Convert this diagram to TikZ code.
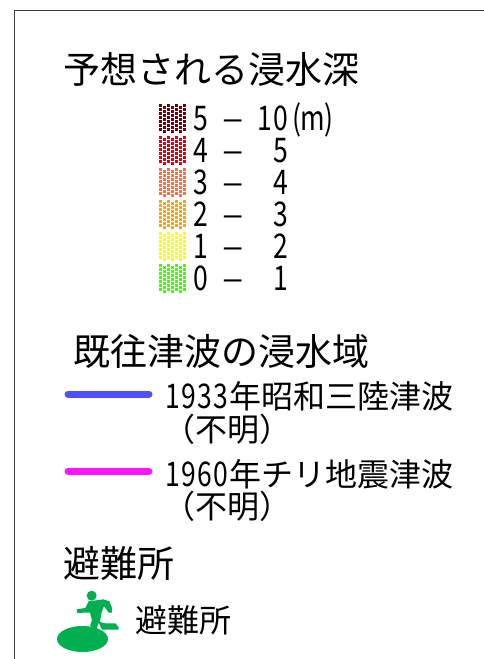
\documentclass[tikz,border=0pt]{standalone}
\usepackage{fontspec}
\usepackage{graphicx}
\setmainfont{Noto Sans CJK JP}
\newfontfamily\digitfont{Noto Sans CJK JP}[FakeStretch=0.78]
\newcommand{\hw}[1]{\makebox[16pt][c]{\digitfont\fontsize{34pt}{34pt}\selectfont #1}}
\newcommand{\wdash}{\hw{\scalebox{1.5}[1]{–}}}
\definecolor{swA}{RGB}{112,0,16}
\definecolor{swB}{RGB}{230,0,18}
\definecolor{swC}{RGB}{255,112,64}
\definecolor{swD}{RGB}{240,168,16}
\definecolor{swE}{RGB}{255,255,0}
\definecolor{swF}{RGB}{64,255,0}
\definecolor{lineA}{RGB}{80,80,255}
\definecolor{lineB}{RGB}{255,20,255}
\definecolor{runner}{RGB}{0,176,80}
\tikzset{
  heading/.style={anchor=west,inner sep=0pt,font=\fontsize{37pt}{37pt}\selectfont},
  entry/.style={anchor=base west,inner sep=0pt,font=\fontsize{32pt}{32pt}\selectfont},
  band/.style={line width=7pt,line cap=round},
}
% swatch: staggered grid of dots; #1 colour, #2 top y
\newcommand{\swatch}[2]{%
  \foreach \c in {0,2,4,6} {
    \foreach \r in {0,...,6} {
      \fill[#1] ({158.8+\c*4},{#2+\r*4-0.2}) rectangle ++(3.5,3.4);
    }
  }
  \foreach \c in {1,3,5} {
    \foreach \r in {0,...,6} {
      \fill[#1] ({158.8+\c*4},{#2+2+\r*4-0.2}) rectangle ++(3.5,3.4);
    }
  }
}
\begin{document}
\begin{tikzpicture}[x=1pt,y=-1pt]
\useasboundingbox (0,0) rectangle (484,659);
\fill[white] (0,0) rectangle (484,659);
\draw[line width=1pt,black!75] (14.5,659) -- (14.5,10.5) -- (484,10.5);

\node[heading] (title) at (63,69) {予想される浸水深};
\swatch{swA}{104}
\swatch{swB}{136}
\swatch{swC}{168}
\swatch{swD}{200}
\swatch{swE}{232}
\swatch{swF}{264}
\node[entry] (r5) at (193,130) {\hw{5}\hw{}\wdash\hw{}\hw{1}\hw{0}\hw{(}\hw{m}\hw{)}};
\node[entry] (r4) at (193,162) {\hw{4}\hw{}\wdash\hw{}\hw{}\hw{5}};
\node[entry] (r3) at (193,194) {\hw{3}\hw{}\wdash\hw{}\hw{}\hw{4}};
\node[entry] (r2) at (193,226) {\hw{2}\hw{}\wdash\hw{}\hw{}\hw{3}};
\node[entry] (r1) at (193,258) {\hw{1}\hw{}\wdash\hw{}\hw{}\hw{2}};
\node[entry] (r0) at (193,290) {\hw{0}\hw{}\wdash\hw{}\hw{}\hw{1}};

\node[heading] (past) at (73,351) {既往津波の浸水域};
\coordinate (a1) at (68,394); \coordinate (a2) at (149,394);
\draw[band,lineA] (a1) -- (a2);
\node[entry] (t33) at (165,408) {\hw{1}\hw{9}\hw{3}\hw{3}年昭和三陸津波};
\node[entry] (u33) at (163,441) {（不明）};
\coordinate (b1) at (68,471); \coordinate (b2) at (149,471);
\draw[band,lineB] (b1) -- (b2);
\node[entry] (t60) at (165,486) {\hw{1}\hw{9}\hw{6}\hw{0}年チリ地震津波};
\node[entry] (u60) at (163,518) {（不明）};

\node[heading] (shelter) at (63,563) {避難所};
\fill[runner] (82.5,639) ellipse (25.5 and 13);
\begin{scope}[shift={(40,580)},x=0.3333pt,y=-0.3333pt]
\fill[runner] (155,47) circle (15);
\fill[runner] (146,64) -- (190,58) -- (208,64) -- (216,84) -- (216,98) -- (206,98) -- (192,78)
 -- (184,100) -- (180,126) -- (196,130) -- (226,130) -- (236,142) -- (236,149) -- (186,149) -- (176,128) -- (170,146) -- (150,138)
 -- (156,120) -- (150,98) -- (134,98) -- (112,99) -- (110,88) -- (136,84) -- cycle;
\end{scope}
\node[entry] (shelterlab) at (135,632) {避難所};
\end{tikzpicture}
\end{document}
